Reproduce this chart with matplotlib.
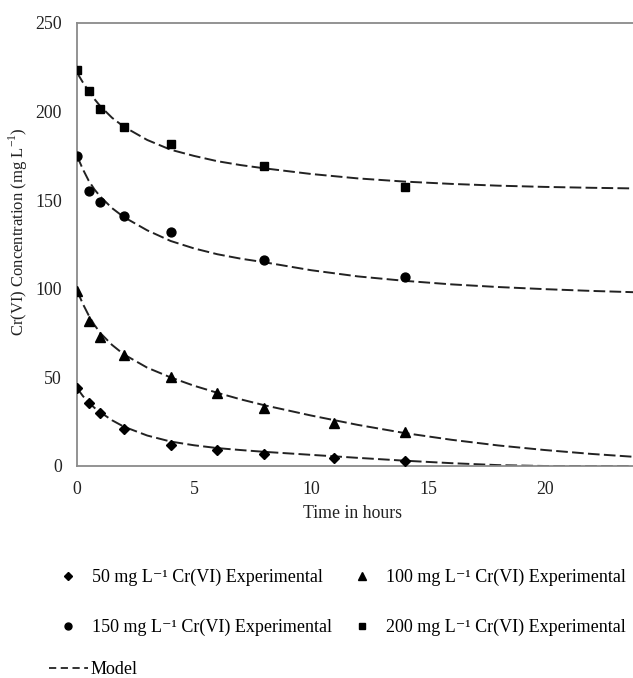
import matplotlib
matplotlib.use("Agg")
import matplotlib.pyplot as plt
from matplotlib.lines import Line2D

plt.rcParams['font.family'] = ['Liberation Serif', 'DejaVu Serif']

# Experimental data
t_50 = [0, 0.5, 1, 2, 4, 6, 8, 11, 14]
c_50 = [44, 35.5, 30, 21, 12, 9, 7, 4.5, 3]
t_100 = [0, 0.5, 1, 2, 4, 6, 8, 11, 14]
c_100 = [99, 82, 73, 62.5, 50, 41, 33, 24, 19]
t_150 = [0, 0.5, 1, 2, 4, 8, 14]
c_150 = [175, 155, 149, 141, 132, 116, 106.5]
t_200 = [0, 0.5, 1, 2, 4, 8, 14]
c_200 = [223.5, 211.5, 201.5, 191.5, 181.5, 169.5, 157.5]

# Model curves
tm = [0, 0.25, 0.5, 0.75, 1, 1.5, 2, 3, 4, 5, 6, 7, 8, 10, 12, 14, 16, 18, 20, 22, 24]
m_50 = [44, 39.5, 35.8, 32.8, 30.3, 25.8, 22.2, 17.2, 13.8, 11.7, 10.1, 9.0, 8.0, 6.3, 4.6, 3.0, 1.6, 0.5, 0, 0, 0]
m_100 = [99, 91.5, 85, 79.5, 75, 68.3, 63, 55.5, 50, 45.3, 41.3, 37.6, 34.3, 28.5, 23.2, 18.6, 14.8, 11.6, 9.0, 6.8, 5.0]
m_150 = [175, 167.5, 161, 156, 152, 145.5, 140.5, 133, 127, 122.8, 119.5, 117, 115, 110.5, 107, 104.5, 102.5, 101, 99.8, 98.8, 98]
m_200 = [222, 216.5, 211.5, 207, 203, 196.5, 191.5, 184, 178.5, 175, 172, 169.8, 168, 164.8, 162.3, 160.5, 159.2, 158.2, 157.5, 157, 156.6]

fig = plt.figure(figsize=(6.33, 6.78), dpi=100)
ax = fig.add_axes([77/633, 212/678, 556/633, 443/678])

dash = (0, (6.0, 2.2))
lc = '#222222'
lw = 1.4
for m in (m_50, m_100, m_150, m_200):
    ax.plot(tm, m, color=lc, lw=lw, linestyle=dash, zorder=2)

ax.plot(t_50, c_50, 'D', color='black', ms=5.2, ls='none', zorder=3)
ax.plot(t_100, c_100, '^', color='black', ms=6.6, ls='none', zorder=3)
ax.plot(t_150, c_150, 'o', color='black', ms=6.4, ls='none', zorder=3)
ax.plot(t_200, c_200, 's', color='black', ms=6.0, ls='none', zorder=3)

ax.set_xlim(0, 556/23.4)
ax.set_ylim(0, 250)
ax.set_xticks([0, 5, 10, 15, 20])
ax.set_yticks([0, 50, 100, 150, 200, 250])
ax.tick_params(axis='both', length=0, labelsize=12.8, colors='#222222')
ax.tick_params(axis='y', pad=11)
ax.tick_params(axis='x', pad=11)
for s in ('left', 'bottom', 'top'):
    ax.spines[s].set_color('#8a8a8a')
    ax.spines[s].set_linewidth(1.3)
ax.spines['right'].set_visible(False)
ax.spines['top'].set_zorder(0)

ax.set_xlabel('Time in hours', fontsize=12.8, color='#222222')
ax.xaxis.set_label_coords(0.495, -(514 - 466) / 443)
ax.xaxis.label.set_va('center')
ax.set_ylabel('Cr(VI) Concentration (mg L$^{\\mathregular{-1}}$)', fontsize=12, color='#222222')
ax.yaxis.set_label_coords((18 - 77) / 556, (466 - 232) / 443)
ax.yaxis.label.set_va('center')

# Legend
h50 = Line2D([], [], marker='D', color='black', ls='none', ms=4)
h100 = Line2D([], [], marker='^', color='black', ls='none', ms=5.5)
h150 = Line2D([], [], marker='o', color='black', ls='none', ms=5)
h200 = Line2D([], [], marker='s', color='black', ls='none', ms=5)
labels = ['50 mg L⁻¹ Cr(VI) Experimental', '150 mg L⁻¹ Cr(VI) Experimental',
          '100 mg L⁻¹ Cr(VI) Experimental', '200 mg L⁻¹ Cr(VI) Experimental']
leg1 = fig.legend([h50, h150, h100, h200], labels, ncol=2, frameon=False,
                  loc='upper left', bbox_to_anchor=(0.068, 0.1845),
                  fontsize=13, handlelength=1.0, handletextpad=0.83,
                  columnspacing=1.15, labelspacing=1.78)
hm = Line2D([], [], color=lc, lw=1.3, linestyle=(0, (4, 2.5)))
leg2 = fig.legend([hm], ['Model'], frameon=False, loc='upper left',
                  bbox_to_anchor=(0.051, 0.049), fontsize=13,
                  handlelength=2.2, handletextpad=0.1)

fig.savefig('out.png', dpi=100)
